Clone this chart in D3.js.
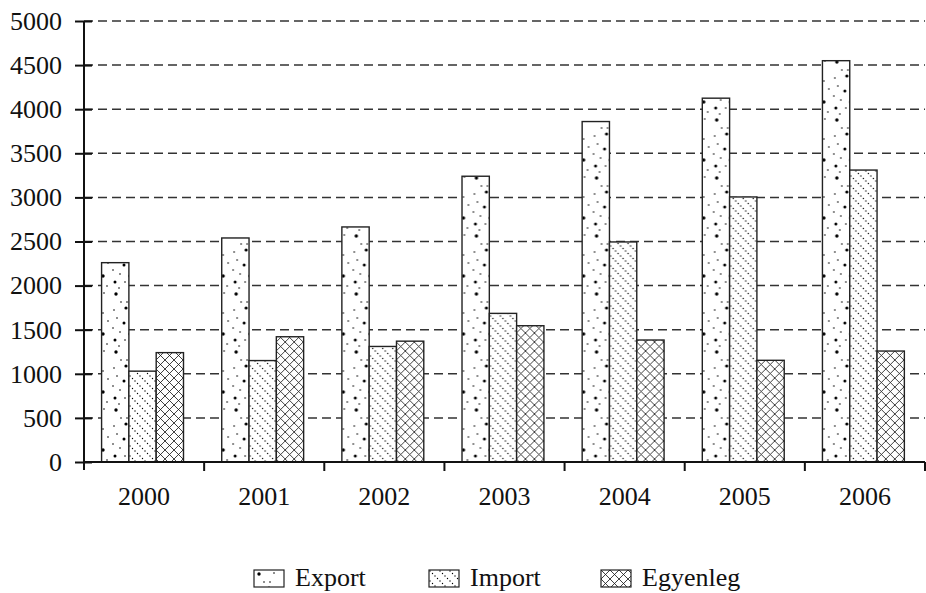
<!DOCTYPE html>
<html>
<head>
<meta charset="utf-8">
<script src="https://cdn.jsdelivr.net/npm/d3@7"></script>
<style>
html,body{margin:0;padding:0;background:#fff;}
svg{display:block;font-family:"Liberation Serif","Times New Roman",serif;}
</style>
</head>
<body>
<svg id="chart" width="926" height="593"></svg>
<script>
const years = ["2000","2001","2002","2003","2004","2005","2006"];
const seriesNames = ["Export","Import","Egyenleg"];
const exportValues = [2260, 2540, 2665, 3240, 3860, 4125, 4550];
const importValues = [1030, 1150, 1310, 1685, 2495, 3005, 3310];
const egyenlegValues = [1240, 1420, 1370, 1545, 1383, 1153, 1258];
const yTicks = [0,500,1000,1500,2000,2500,3000,3500,4000,4500,5000];

(function(){
const seriesValues = [exportValues, importValues, egyenlegValues];
const rows = years.map((yr,i)=>({year:yr, values: seriesNames.map((s,j)=>({series:s, value:seriesValues[j][i]}))}));

const svg = d3.select("#chart");
const mLeft = 84, mRight = 925, mTop = 21, mBottom = 462;
const FS = 26;

// patterns
const defs = svg.append("defs");
const pExp = defs.append("pattern").attr("id","pat-Export").attr("patternUnits","userSpaceOnUse")
  .attr("width",27).attr("height",58);
pExp.append("rect").attr("width",27).attr("height",58).attr("fill","#fff");
[[5,4,1.7],[20,3,0.8],[10,12,0.8],[16,12,0.8],[3,20,0.8],[15,18,1.6],[19,23,0.8],[6,28,0.8],
 [13,33,1.5],[24,31,0.8],[2,38,0.8],[9,42,0.8],[19,44,1.7],[4,50,1.5],[14,50,0.8],[23,54,0.8],[8,56,0.8]]
 .forEach(d=>pExp.append("circle").attr("cx",d[0]).attr("cy",d[1]).attr("r",d[2]).attr("fill","#000"));

const pImp = defs.append("pattern").attr("id","pat-Import").attr("patternUnits","userSpaceOnUse")
  .attr("width",10).attr("height",10);
pImp.append("rect").attr("width",10).attr("height",10).attr("fill","#fff");
[1,3.5,6,8.5].forEach(t=>pImp.append("circle").attr("cx",t).attr("cy",t).attr("r",0.7).attr("fill","#000"));

const pEgy = defs.append("pattern").attr("id","pat-Egyenleg").attr("patternUnits","userSpaceOnUse")
  .attr("width",9).attr("height",9);
pEgy.append("rect").attr("width",9).attr("height",9).attr("fill","#fff");
pEgy.append("path").attr("d","M0,0L9,9M9,0L0,9M-1,8L1,10M8,-1L10,1M-1,1L1,-1M8,10L10,8")
  .attr("stroke","#111").attr("stroke-width",0.8).attr("fill","none");

const y = d3.scaleLinear().domain([0,5000]).range([mBottom, mTop]);
const x0 = d3.scaleBand().domain(years).range([mLeft,mRight]).padding(0);
const x1 = d3.scaleBand().domain(seriesNames).range([0,x0.bandwidth()])
  .paddingInner(0).paddingOuter(0.7).align(0.46);

// gridlines
svg.append("g").selectAll("line").data(yTicks.filter(t=>t>0)).join("line")
  .attr("x1",mLeft).attr("x2",mRight).attr("y1",d=>y(d)).attr("y2",d=>y(d))
  .attr("stroke","#333").attr("stroke-width",1.5).attr("stroke-dasharray","9,5");

// bars
const g = svg.append("g").selectAll("g").data(rows).join("g")
  .attr("transform",d=>`translate(${x0(d.year)},0)`);
g.selectAll("rect").data(d=>d.values).join("rect")
  .attr("x",d=>x1(d.series)).attr("width",x1.bandwidth())
  .attr("y",d=>y(d.value)).attr("height",d=>y(0)-y(d.value))
  .attr("fill",d=>`url(#pat-${d.series})`)
  .attr("stroke","#222").attr("stroke-width",1.4);

// y axis
const yAxis = d3.axisLeft(y).tickValues(yTicks).tickFormat(d3.format("d"))
  .tickSizeInner(9).tickSizeOuter(0).tickPadding(12);
const ya = svg.append("g").attr("transform",`translate(${mLeft},0)`).call(yAxis);
ya.select(".domain").remove();
ya.append("line").attr("x1",0).attr("x2",0).attr("y1",mTop).attr("y2",mBottom+8)
  .attr("stroke","#111").attr("stroke-width",2);
ya.selectAll(".tick line").attr("x2",-9).attr("x1",8).attr("stroke","#111").attr("stroke-width",2);
ya.selectAll(".tick text").attr("font-size",FS).attr("fill","#111")
  .attr("font-family","Liberation Serif, Times New Roman, serif").attr("x",-22);

// x axis
svg.append("line").attr("x1",mLeft).attr("x2",mRight).attr("y1",mBottom).attr("y2",mBottom)
  .attr("stroke","#111").attr("stroke-width",2);
svg.append("g").selectAll("line").data(years).join("line")
  .attr("x1",d=>x0(d)+x0.bandwidth()).attr("x2",d=>x0(d)+x0.bandwidth())
  .attr("y1",mBottom).attr("y2",mBottom+9).attr("stroke","#111").attr("stroke-width",2);
svg.append("g").selectAll("text").data(years).join("text")
  .attr("x",d=>x0(d)+x0.bandwidth()/2).attr("y",505)
  .attr("text-anchor","middle").attr("font-size",FS).attr("fill","#111").text(d=>d);

// legend
const legendX = [254, 429, 601];
const lg = svg.append("g").selectAll("g").data(seriesNames).join("g")
  .attr("transform",(d,i)=>`translate(${legendX[i]},570)`);
lg.append("rect").attr("width",30).attr("height",17)
  .attr("fill",d=>`url(#pat-${d})`).attr("stroke","#222").attr("stroke-width",1.2);
lg.append("text").attr("x",41).attr("y",16).attr("font-size",FS).attr("fill","#111").text(d=>d);
})();
</script>
</body>
</html>
